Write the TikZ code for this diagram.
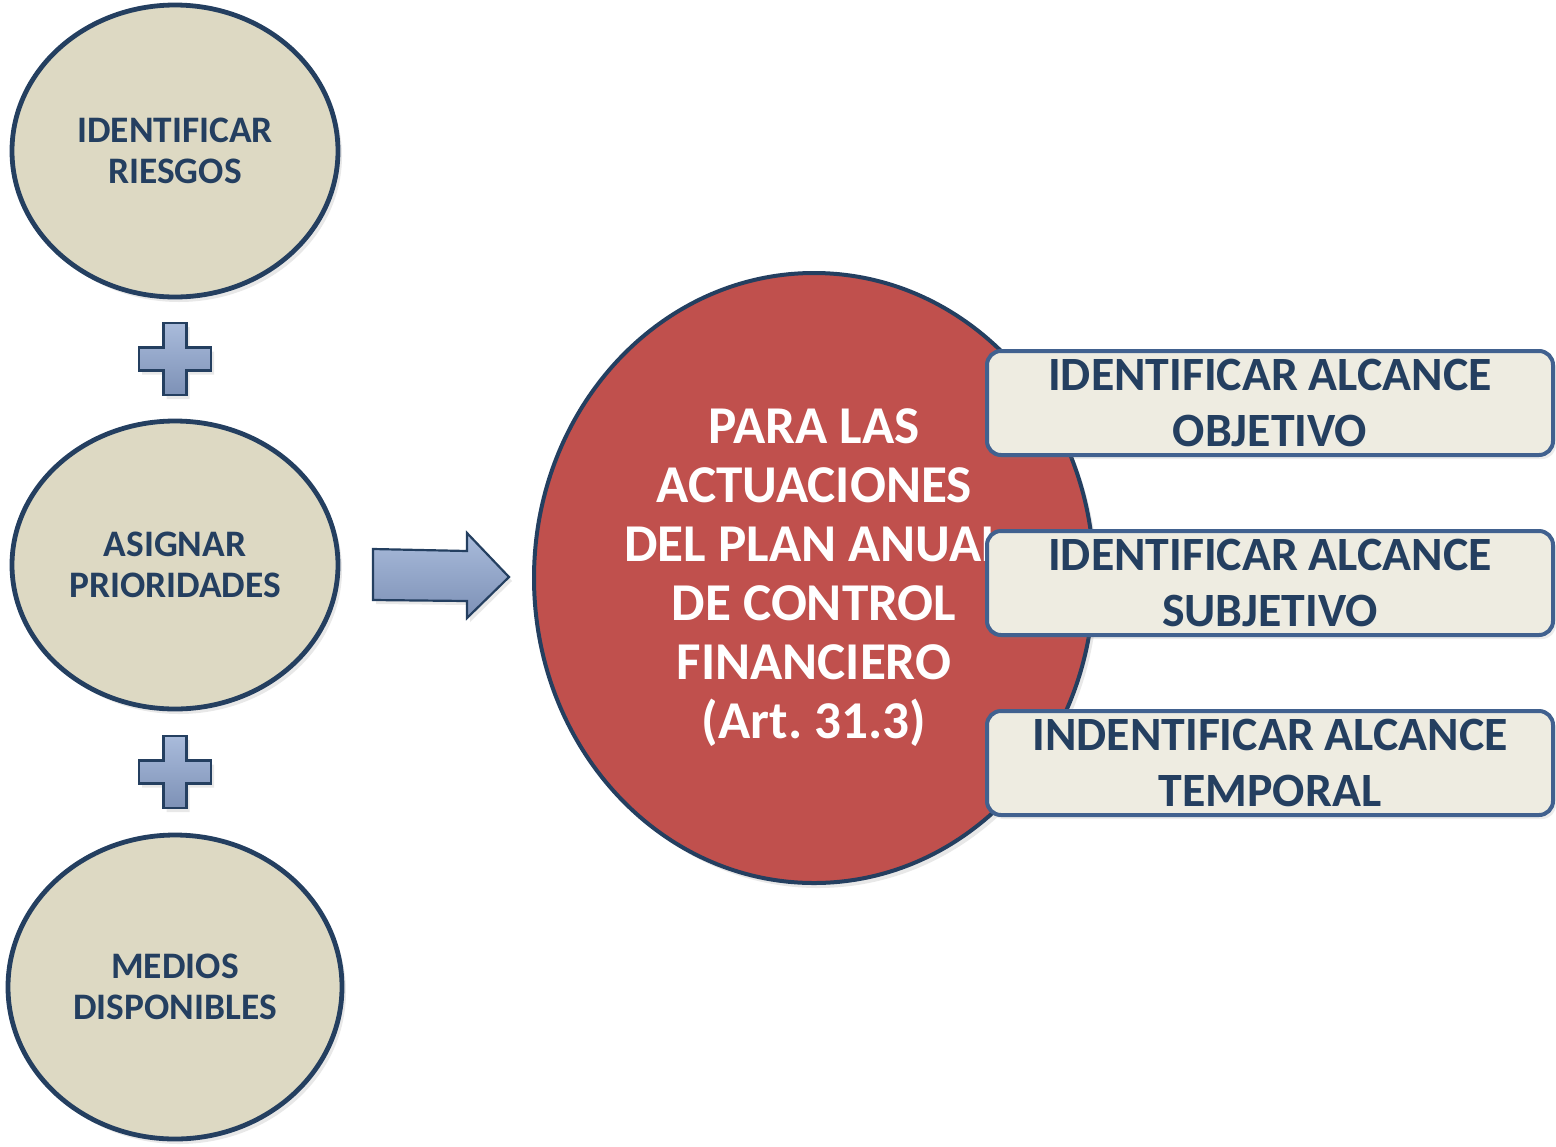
\documentclass[tikz,border=0pt]{standalone}
\usepackage{fontspec}
\setmainfont{Carlito}
\usetikzlibrary{shapes.geometric,shadows,calc}
\definecolor{navy}{HTML}{243F60}
\definecolor{tan}{HTML}{DDD9C3}
\definecolor{brick}{HTML}{C0504D}
\definecolor{paper}{HTML}{EEECE1}
\definecolor{boxline}{HTML}{41618F}
\definecolor{bluetop}{HTML}{A9BBDB}
\definecolor{bluebot}{HTML}{7D91B6}
\tikzset{
  oval/.style={ellipse, draw=navy, line width=2.4pt, fill=tan, text=navy,
    font=\fontsize{18.7}{20.5}\selectfont\bfseries, align=center, inner sep=0pt,
    drop shadow={opacity=0.18, shadow xshift=2pt, shadow yshift=-2.5pt}},
  bigcirc/.style={ellipse, draw=navy, line width=2pt, fill=brick, text=white,
    font=\fontsize{26.6}{29.5}\selectfont\bfseries, align=center, inner sep=0pt,
    drop shadow={opacity=0.18, shadow xshift=2pt, shadow yshift=-2.5pt}},
  scopebox/.style={rectangle, rounded corners=7pt, draw=boxline, line width=2pt,
    fill=paper, text=navy, font=\fontsize{23.9}{28}\selectfont\bfseries,
    align=center, inner sep=0pt, minimum width=283pt, minimum height=52pt,
    drop shadow={opacity=0.15, shadow xshift=1.5pt, shadow yshift=-2pt}},
  bluesym/.style={draw=navy, line width=1.1pt, top color=bluetop, bottom color=bluebot,
    drop shadow={opacity=0.18, shadow xshift=1.5pt, shadow yshift=-2pt}},
  pics/plussign/.style={code={
    \path[bluesym] (-11.5,-36) -- (11.5,-36) -- (11.5,-11.5) -- (36,-11.5) -- (36,11.5)
      -- (11.5,11.5) -- (11.5,36) -- (-11.5,36) -- (-11.5,11.5) -- (-36,11.5)
      -- (-36,-11.5) -- (-11.5,-11.5) -- cycle;}}
}
\begin{document}
\frenchspacing
\begin{tikzpicture}[x=0.5pt,y=-0.5pt]
\useasboundingbox (0,0) rectangle (1556,1146);
\node[oval, minimum width=163pt, minimum height=146pt] (e1) at (175,151) {IDENTIFICAR\\RIESGOS};
\node[oval, minimum width=163pt, minimum height=144pt] (e2) at (175,565) {ASIGNAR\\PRIORIDADES};
\node[oval, minimum width=167pt, minimum height=152pt] (e3) at (175,987) {MEDIOS\\DISPONIBLES};
\pic at ($(e1.south)!0.5!(e2.north)$) {plussign};
\pic at ($(e2.south)!0.5!(e3.north)$) {plussign};
\path[bluesym] (373,549) -- (467,551) -- (467,533) -- (509,577) -- (467,618) -- (467,601) -- (373,600) -- cycle;
\node[bigcirc, minimum width=280pt, minimum height=305pt] (c) at (814,578)
  {PARA LAS\\ACTUACIONES\\DEL PLAN ANUAL\\DE CONTROL\\FINANCIERO\\(Art. 31.3)};
\node[scopebox] (b1) at (1270,403) {IDENTIFICAR ALCANCE\\OBJETIVO};
\node[scopebox] (b2) at (1270,583) {IDENTIFICAR ALCANCE\\SUBJETIVO};
\node[scopebox] (b3) at (1270,763) {INDENTIFICAR ALCANCE\\TEMPORAL};
\end{tikzpicture}
\end{document}
